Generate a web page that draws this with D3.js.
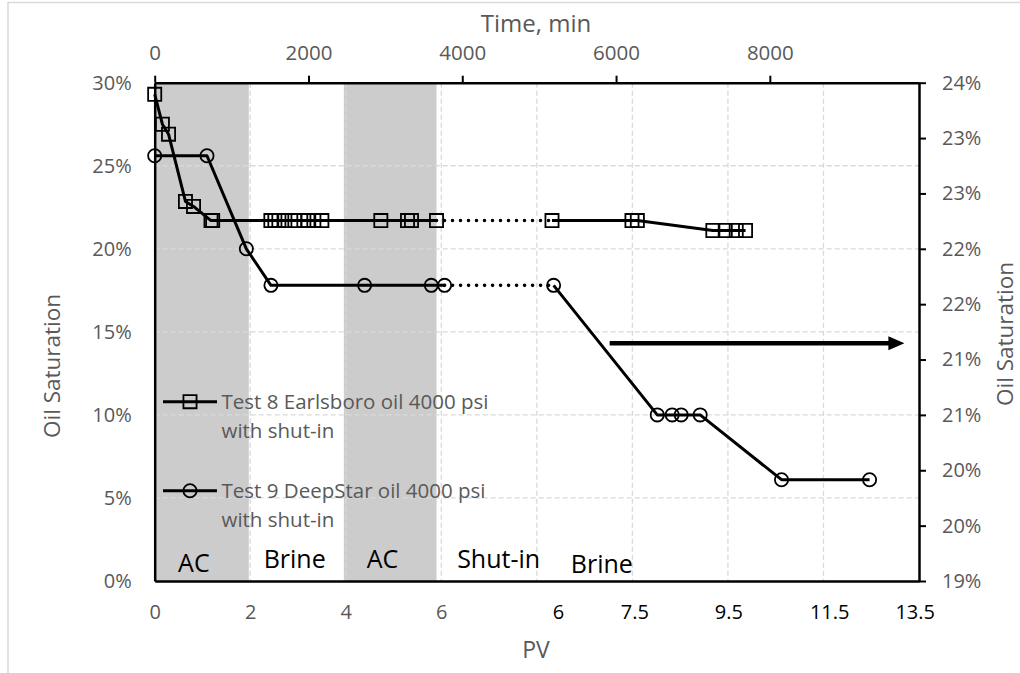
<!DOCTYPE html>
<html>
<head>
<meta charset="utf-8">
<script src="https://cdn.jsdelivr.net/npm/d3@7"></script>
<style>
  html, body { margin: 0; padding: 0; background: #fff; }
  svg { display: block; font-family: "Open Sans", "Noto Sans", sans-serif; }
</style>
</head>
<body>
<svg id="chart" width="1020" height="673"></svg>
<script>
// Test 8 (Earlsboro oil) : elapsed time in minutes and oil saturation
const test8Time = [0, 100, 180, 400, 505, 732, 754, 1511, 1563, 1615, 1693, 1823, 1940, 1992, 2070, 2174,
                   2941, 3288, 3340, 3665, 5167, 6207, 6277, 7259, 7420, 7563, 7684];
const test8Sat  = [0.293, 0.275, 0.269, 0.2285, 0.2255, 0.217, 0.217, 0.217, 0.217, 0.217, 0.217, 0.217, 0.217,
                   0.217, 0.217, 0.217, 0.217, 0.217, 0.217, 0.217, 0.217, 0.217, 0.217, 0.211, 0.211, 0.211, 0.211];
// index of the last point before the shut-in period
const test8ShutIn = 19;

// Test 9 (DeepStar oil)
const test9Time = [0, 680, 1192, 1512, 2730, 3597, 3770, 5188, 6536, 6730, 6847, 7094, 8152, 9297];
const test9Sat  = [0.256, 0.256, 0.200, 0.178, 0.178, 0.178, 0.178, 0.178, 0.100, 0.100, 0.100, 0.100, 0.061, 0.061];
const test9ShutIn = 6;

const seriesNames = ["Test 8 Earlsboro oil 4000 psi", "Test 9 DeepStar oil 4000 psi"];
const seriesNames2 = ["with shut-in", "with shut-in"];

// axis ticks
const timeTicks = [0, 2000, 4000, 6000, 8000];
const leftTicks = [0, 0.05, 0.10, 0.15, 0.20, 0.25, 0.30];
const rightTickCount = 10;
const pvTicks = [0, 2, 4, 6];
const pvGrid = [2, 4, 6, 8, 10, 12, 14];
// PV labels typed along the lower edge for the later stages
const pvExtraLabels = ["6", "7.5", "9.5", "11.5", "13.5"];
const pvExtraAt = [8.45, 10.05, 12.02, 14.13, 15.92];

// injection stages
const acBands = [[0, 1.97], [3.96, 5.9]];
const stageNames = ["AC", "Brine", "AC", "Shut-in", "Brine"];
const stageAt = [0.82, 2.93, 4.77, 7.2, 9.36];

// arrow pointing to the secondary axis
const arrowTime = [5917, 9750];
const arrowSat = 0.1432;

const svg = d3.select("#chart");
const L = 154.7, R = 919, T = 82.7, B = 581;
const grey = "#595959";

const xTime = d3.scaleLinear().domain([0, 9940]).range([L, R]);
const xPV = d3.scaleLinear().domain([0, 16]).range([L, R]);
const yL = d3.scaleLinear().domain([0, 0.30]).range([B, T]);
const yR = d3.scaleLinear().domain([0.19, 0.24]).range([B, T]);

// outer frame
svg.append("path").attr("d", `M8,673 V2.5 H1020`).attr("fill", "none")
  .attr("stroke", "#d9d9d9").attr("stroke-width", 1.5);

// stage shading
svg.append("g").selectAll("rect").data(acBands).join("rect")
  .attr("x", d => xPV(d[0])).attr("width", d => xPV(d[1]) - xPV(d[0]))
  .attr("y", T).attr("height", B - T).attr("fill", "#cccccc");

// gridlines
const grid = svg.append("g").attr("stroke", "#d9d9d9").attr("stroke-width", 1.3)
  .attr("stroke-dasharray", "5,3");
grid.selectAll(".h").data(leftTicks.slice(1, -1)).join("line")
  .attr("x1", L).attr("x2", R).attr("y1", d => yL(d)).attr("y2", d => yL(d));
grid.selectAll(".v").data(pvGrid).join("line")
  .attr("y1", T).attr("y2", B).attr("x1", d => xPV(d)).attr("x2", d => xPV(d));

// stage names
svg.append("g").selectAll("text").data(stageNames).join("text")
  .attr("x", (d, i) => xPV(stageAt[i]))
  .attr("y", (d, i) => B - (i === 0 ? 9.5 : i === 4 ? 8 : 13))
  .attr("text-anchor", "middle").attr("font-size", 25).attr("fill", "#000")
  .text(d => d);

// axes
const styleAxis = g => {
  g.selectAll("text").attr("fill", grey).attr("font-family", "Open Sans, sans-serif");
  g.selectAll("line").attr("stroke", "#000").attr("stroke-width", 2);
  g.select(".domain").attr("stroke", "#000").attr("stroke-width", 2.5);
};

svg.append("g").attr("transform", `translate(0,${T})`)
  .call(d3.axisTop(xTime).tickValues(timeTicks).tickFormat(d3.format("d")).tickSize(7).tickSizeOuter(0).tickPadding(16))
  .call(styleAxis).call(g => g.selectAll("text").attr("font-size", 20.5));

svg.append("g").attr("transform", `translate(${L},0)`)
  .call(d3.axisLeft(yL).tickValues(leftTicks).tickFormat(d3.format(".0%")).tickSize(0).tickPadding(23))
  .call(styleAxis).call(g => g.selectAll("text").attr("font-size", 20));

const rightTicks = d3.range(rightTickCount).map(i => 0.19 + i * (0.05 / (rightTickCount - 1)));
svg.append("g").attr("transform", `translate(${R},0)`)
  .call(d3.axisRight(yR).tickValues(rightTicks).tickFormat(d3.format(".0%")).tickSize(7).tickSizeOuter(0).tickPadding(16))
  .call(styleAxis).call(g => g.selectAll("text").attr("font-size", 20));

svg.append("g").attr("transform", `translate(0,${B})`)
  .call(d3.axisBottom(xPV).tickValues(pvTicks).tickFormat(d3.format("d")).tickSize(0).tickSizeOuter(0).tickPadding(24))
  .call(styleAxis).call(g => g.selectAll("text").attr("font-size", 20));

svg.append("g").selectAll("text").data(pvExtraLabels).join("text")
  .attr("x", (d, i) => xPV(pvExtraAt[i])).attr("y", B + 24).attr("dy", "0.71em")
  .attr("text-anchor", "middle").attr("font-size", 20).attr("fill", "#000")
  .text(d => d);

// axis titles
svg.append("text").attr("x", 536).attr("y", 32).attr("text-anchor", "middle")
  .attr("font-size", 24).attr("fill", grey).text("Time, min");
svg.append("text").attr("x", 536).attr("y", 658).attr("text-anchor", "middle")
  .attr("font-size", 23).attr("fill", grey).text("PV");
svg.append("text").attr("transform", "translate(60,366) rotate(-90)").attr("text-anchor", "middle")
  .attr("font-size", 22.5).attr("fill", grey).text("Oil Saturation");
svg.append("text").attr("transform", "translate(1013,334) rotate(-90)").attr("text-anchor", "middle")
  .attr("font-size", 22.5).attr("fill", grey).text("Oil Saturation");

// series
const series = [
  { time: test8Time, sat: test8Sat, cut: test8ShutIn, shape: "square" },
  { time: test9Time, sat: test9Sat, cut: test9ShutIn, shape: "circle" }
];
const line = d3.line().x(d => xTime(d[0])).y(d => yL(d[1]));
const markerSquare = d3.symbol().type(d3.symbolSquare).size(172);

series.forEach(s => {
  const pts = s.time.map((t, i) => [t, s.sat[i]]);
  const g = svg.append("g");
  g.append("path").attr("d", line(pts.slice(0, s.cut + 1)))
    .attr("fill", "none").attr("stroke", "#000").attr("stroke-width", 3).attr("stroke-linejoin", "round");
  g.append("path").attr("d", line(pts.slice(s.cut, s.cut + 2)))
    .attr("fill", "none").attr("stroke", "#000").attr("stroke-width", 3.6)
    .attr("stroke-linecap", "round").attr("stroke-dasharray", "0,8");
  g.append("path").attr("d", line(pts.slice(s.cut + 1)))
    .attr("fill", "none").attr("stroke", "#000").attr("stroke-width", 3).attr("stroke-linejoin", "round");
  const m = g.append("g").attr("fill", "none").attr("stroke", "#000").attr("stroke-width", 1.8);
  if (s.shape === "square") {
    m.selectAll("path").data(pts).join("path")
      .attr("transform", d => `translate(${xTime(d[0])},${yL(d[1])})`).attr("d", markerSquare);
  } else {
    m.selectAll("circle").data(pts).join("circle")
      .attr("cx", d => xTime(d[0])).attr("cy", d => yL(d[1])).attr("r", 6.6);
  }
});

// arrow
const ay = yL(arrowSat);
const ax0 = xTime(arrowTime[0]), ax1 = xTime(arrowTime[1]);
svg.append("line").attr("x1", ax0).attr("x2", ax1 - 12).attr("y1", ay).attr("y2", ay)
  .attr("stroke", "#000").attr("stroke-width", 4.5);
svg.append("path").attr("d", `M${ax1},${ay} L${ax1 - 16},${ay - 7} L${ax1 - 16},${ay + 7} Z`).attr("fill", "#000");

// legend
const legendY = [401.7, 490.7];
const lg = svg.append("g");
seriesNames.forEach((name, i) => {
  const y = legendY[i];
  lg.append("line").attr("x1", 163).attr("x2", 217).attr("y1", y).attr("y2", y)
    .attr("stroke", "#000").attr("stroke-width", 3);
  if (i === 0) {
    lg.append("path").attr("transform", `translate(190,${y})`).attr("d", markerSquare)
      .attr("fill", "none").attr("stroke", "#000").attr("stroke-width", 1.8);
  } else {
    lg.append("circle").attr("cx", 190).attr("cy", y).attr("r", 6.6)
      .attr("fill", "none").attr("stroke", "#000").attr("stroke-width", 1.8);
  }
  lg.append("text").attr("x", 221.5).attr("y", y + 7.6).attr("font-size", 20.5).attr("fill", grey).text(name);
  lg.append("text").attr("x", 221.5).attr("y", y + 36).attr("font-size", 20.5).attr("fill", grey).text(seriesNames2[i]);
});
</script>
</body>
</html>
